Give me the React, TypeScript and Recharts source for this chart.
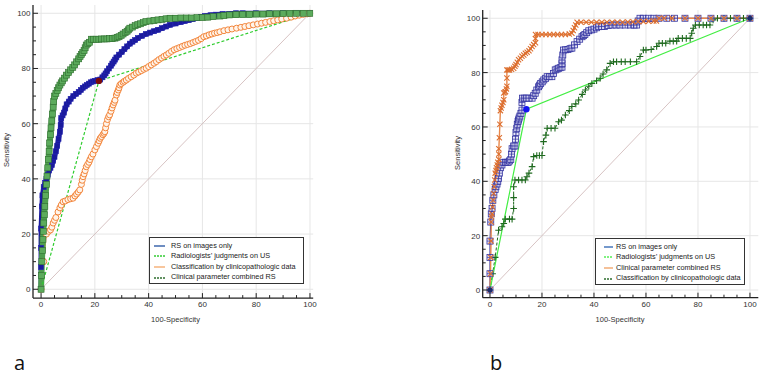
import React from 'react';
import { LineChart, Line, XAxis, YAxis, CartesianGrid, Legend } from 'recharts';

const FONT = '"Liberation Sans", Arial, sans-serif';

type P = [number, number];

// ---------- shared ticks ----------
const minorTicks = [0, 5, 10, 15, 20, 25, 30, 35, 40, 45, 50, 55, 60, 65, 70, 75, 80, 85, 90, 95, 100];
const majorTicks = [0, 20, 40, 60, 80, 100];
const diagonal: P[] = [[0, 0], [100, 100]];

// ---------- panel a ----------
const aRs: P[] = [[0, 0], [0, 8], [0, 15], [0, 22], [0.3, 30], [0.5, 34], [1, 37], [1.5, 38.5], [2, 40], [2.5, 41.5], [3, 43], [3.5, 44], [4, 45], [4.5, 46.5], [5, 48], [5.5, 50], [6, 52], [6.5, 54.5], [7, 57], [7.3, 59.5], [7.5, 62], [8, 63], [8.5, 64], [9, 65.5], [9.5, 67], [10.3, 68], [11, 69], [12, 70], [13, 70.8], [14, 71.5], [14.8, 72.2], [15.5, 73], [16.3, 73.5], [17, 74], [17.8, 74.5], [18.5, 75], [19.3, 75.3], [20, 75.5], [21, 75.8], [22, 76], [22.8, 76.8], [23.5, 77.5], [24, 78.2], [24.5, 79], [25.2, 80], [26, 81], [26.5, 81.8], [27, 82.5], [27.5, 83.2], [28, 84], [29, 85], [30, 86], [31, 87], [32, 88], [33, 89], [34, 89.7], [35, 90.3], [36, 91], [37.5, 91.8], [39, 92.5], [40.5, 93], [42, 93.5], [43.5, 94], [45, 94.6], [46.5, 95.2], [48, 95.8], [50, 96.3], [52, 96.8], [53.5, 97.2], [55, 97.5], [56.5, 97.9], [58, 98.3], [59.5, 98.7], [61, 99], [63, 99.3], [65, 99.5], [67.5, 99.7], [70, 99.8], [72.5, 100], [75, 100], [80, 100], [85, 100], [90, 100], [95, 100], [100, 100]];

const aRad: P[] = [[0, 0], [21.5, 75.5], [100, 100]];

const aClin: P[] = [[0, 0], [1, 10], [2, 20], [2.8, 21], [3.5, 21.5], [4, 22.5], [4.5, 24], [5, 25], [5.5, 26], [6.3, 28], [7, 29.5], [7.5, 30.5], [8.2, 31.7], [9, 32], [10, 32.5], [11, 32.8], [11.9, 33], [12.6, 33.8], [13.2, 34.5], [13.8, 35.2], [14.4, 36], [15, 38], [15.3, 39.5], [15.6, 40.8], [16, 41.8], [16.4, 43], [16.8, 44.4], [17.3, 45.2], [17.8, 46], [18.2, 47], [18.7, 48], [19.3, 49], [20, 50.5], [20.6, 51.7], [21.2, 52.9], [21.6, 53.8], [22, 54.7], [22.5, 55.3], [23, 56], [23.4, 56.5], [23.7, 57.1], [24, 58.5], [24.3, 60], [24.7, 61.5], [25.1, 62.5], [25.5, 63.2], [26, 64.5], [26.4, 65.7], [26.8, 66.8], [27.2, 67.7], [27.5, 68.5], [28, 70.4], [28.3, 71.3], [28.7, 72.2], [29, 73], [29.3, 74], [29.8, 74.5], [30.5, 75], [31, 75.4], [31.7, 75.8], [32.5, 76.4], [33.5, 77], [34.5, 77.6], [35.4, 78.3], [36.3, 78.7], [37.3, 79.2], [38.2, 79.7], [39.1, 80.1], [40, 80.7], [41, 81.3], [42, 81.9], [42.9, 82.5], [43.8, 83.2], [44.8, 83.8], [45.7, 84.4], [46.6, 84.9], [47.5, 85.5], [48.5, 86.2], [49.5, 86.8], [50.5, 87.2], [51.5, 87.6], [52.5, 88], [53.5, 88.4], [54.5, 88.7], [55.5, 89], [56.5, 89.4], [57.5, 89.8], [58.5, 90.2], [59.5, 90.8], [60.5, 91.5], [61.5, 91.8], [62.5, 92.2], [63.5, 92.5], [64.5, 92.8], [65.5, 93], [66.5, 93.3], [68, 93.7], [69.5, 94], [71, 94.3], [72.7, 94.6], [74.3, 94.9], [75.8, 95.2], [77.3, 95.5], [78.9, 95.8], [80.5, 96.1], [82, 96.4], [83.5, 96.7], [85.1, 97], [86.5, 97.3], [88, 97.6], [89.5, 97.9], [91.3, 98.2], [93, 98.6], [94.5, 99], [96, 99.3], [97.5, 99.6], [99, 99.8], [100, 100]];

const aComb: P[] = [[0, 0], [0.15, 5], [0.3, 10], [0.5, 14], [0.7, 18], [0.85, 21], [1, 24], [1.2, 27], [1.4, 30], [1.7, 34], [2, 38], [2.2, 41], [2.5, 44], [2.7, 47], [3, 50], [3.2, 53], [3.5, 56], [3.7, 58.5], [4, 61], [4.2, 63.5], [4.5, 66], [4.7, 68], [5, 70], [5.5, 71], [6, 72], [6.5, 73], [7, 74], [7.5, 74.8], [8, 75.5], [8.7, 76.5], [9.4, 77.6], [10.2, 78.5], [11, 79.5], [11.8, 80.4], [12.5, 81.3], [13.2, 82.4], [14, 83.5], [14.5, 84.3], [15, 85], [15.5, 85.8], [16, 86.5], [16.4, 87.5], [16.8, 88.5], [17.4, 89], [18, 89.5], [18.7, 90.6], [19.5, 90.6], [20.5, 90.6], [21.5, 90.6], [22.5, 90.7], [23.5, 90.7], [24.5, 90.7], [25.5, 90.8], [26.5, 90.8], [27.5, 91], [28.3, 91.3], [29, 91.5], [29.8, 92], [30.5, 92.5], [31.3, 93], [32, 93.5], [32.5, 94], [33, 94.6], [34, 95], [35, 95.5], [36, 95.9], [37, 96.2], [38, 96.6], [39, 97], [40.5, 97.2], [42, 97.4], [43.5, 97.6], [45, 97.8], [46.5, 98], [48, 98.2], [50, 98.2], [52, 98.3], [54, 98.3], [56, 98.3], [58, 98.4], [60, 98.5], [62, 98.6], [64, 98.8], [66.5, 99], [68, 99.2], [70, 99.4], [72.5, 99.5], [75, 99.6], [77.5, 99.6], [80, 99.7], [82.5, 99.7], [85, 99.8], [87.5, 99.8], [90, 99.9], [92.5, 99.9], [95, 100], [97.5, 100], [100, 100]];

const legendNamesA = ['RS on images only', 'Radiologists’ judgments on US', 'Classification by clinicopathologic data', 'Clinical parameter combined RS'];

// ---------- panel b ----------
const bRs: P[] = [[0, 0], [0, 6], [0, 12], [0, 18], [0.3, 25], [0.5, 28], [0.8, 30], [1.1, 33], [1.5, 35], [2, 37], [2.3, 38], [2.7, 39], [3, 40], [3.3, 41], [3.6, 43], [4, 45], [4.6, 46], [5.3, 47], [6, 47], [6.6, 47], [7, 47], [7.5, 47.5], [8, 48], [8.3, 50], [8.5, 52], [9.1, 53], [9.6, 53], [9.8, 55.5], [10, 58], [10.3, 59.5], [10.5, 61], [10.8, 62], [11, 62.6], [11.2, 63.3], [11.5, 64], [11.9, 65], [12.3, 66.2], [12.3, 69], [12.5, 70.6], [13.2, 70.6], [14, 70.6], [15, 70.6], [16.2, 70.6], [16.8, 71.5], [17.4, 72.4], [18, 73.6], [18.7, 74.8], [19.1, 75.4], [19.5, 76], [20.1, 76.6], [20.7, 77.3], [21.4, 77.9], [22, 78.5], [22.9, 78.5], [23.8, 78.5], [24.4, 79.7], [25.1, 81], [25.8, 81.3], [26.4, 81.6], [27, 81.8], [27.7, 82], [27.7, 83.3], [27.7, 84.7], [28, 86.5], [28.3, 88.3], [29, 88.4], [30, 88.5], [30.8, 88.8], [31.5, 89], [32.5, 90.2], [33.5, 91.4], [34.5, 92.3], [35.4, 93.2], [36, 93.6], [36.5, 94], [37.2, 94.7], [38, 95.4], [39, 95.7], [40, 96], [41, 96.5], [41.8, 96.9], [43, 97], [44, 97], [45.5, 97.3], [47, 97.5], [48.5, 97.5], [50, 97.5], [52, 97.5], [54, 97.5], [55.5, 97.5], [56.4, 97.5], [57, 99], [57.7, 100], [59, 100], [61, 100], [63, 100], [65, 100], [68, 100], [71, 100], [75, 100], [80, 100], [85, 100], [90, 100], [95, 100], [100, 100]];

const bRad: P[] = [[0, 0], [14, 66.5], [100, 100]];

const bComb: P[] = [[0, 0], [0.2, 6], [0.3, 12], [0.4, 18], [0.5, 25], [0.6, 27], [0.8, 28], [1, 30.5], [1.2, 33], [1.4, 35.5], [1.6, 38], [1.8, 40.5], [2, 43], [2.3, 44], [2.5, 45], [2.8, 46], [3, 47], [3.4, 48], [3.4, 50], [3.4, 52], [3.6, 56], [3.8, 61], [4, 66], [4.3, 67], [4.6, 68], [5, 69], [5.3, 70], [5.3, 72.5], [5.7, 72.8], [6, 73], [6.3, 74], [6.5, 75], [6.5, 78], [6.5, 81], [7, 81], [7.5, 81], [8.3, 81.2], [9.1, 81.6], [9.6, 82.3], [10, 83], [10.5, 83.8], [11, 84.7], [11.7, 85.3], [12.3, 86], [13, 86.5], [13.6, 87.1], [14.3, 87.5], [15, 88], [15.6, 88.8], [16.2, 89.6], [16.8, 90.3], [17.5, 91], [17.5, 92.5], [17.5, 94], [18.5, 94], [20, 94], [21.5, 94], [23, 94], [24.5, 94], [26, 94], [27.5, 94], [29, 94], [30.5, 94.2], [31.5, 94.5], [32, 95.5], [32.5, 96.5], [33, 97.5], [33.5, 98.5], [35, 98.5], [37, 98.5], [39, 98.5], [41, 98.5], [43, 98.5], [45, 98.5], [47, 98.5], [49, 98.5], [51, 98.5], [53, 98.6], [55, 98.7], [57, 98.8], [59, 98.8], [61, 98.9], [63, 99], [64, 99], [65, 100], [67, 100], [70, 100], [75, 100], [80, 100], [85, 100], [90, 100], [95, 100], [100, 100]];

const bClin: P[] = [[0, 0], [1, 6], [2, 12], [3.3, 22], [4.6, 23.3], [5.3, 24.5], [5.9, 26.1], [7.5, 26.1], [8.5, 26.1], [9.1, 30], [9.1, 34], [9.1, 38], [9.6, 40.5], [11, 40.5], [12.3, 40.5], [13.6, 40.5], [14.2, 41.7], [15, 43], [16.2, 45.4], [16.8, 49.1], [18, 49.5], [19, 49.5], [20, 49.5], [20.6, 54.6], [21.5, 57], [22, 59.5], [23.5, 59.5], [25, 59.5], [26.4, 61.9], [27.5, 62.5], [29, 64.4], [30.5, 66], [31.5, 67.5], [33, 68.5], [34.1, 69.9], [35.5, 72], [36.7, 73.6], [38, 75], [39.2, 76], [41, 77], [42.4, 77.9], [43.5, 79.5], [44.9, 81], [46.2, 83.4], [47.5, 84], [48.7, 84], [50.5, 84], [52, 84], [54, 84], [56.4, 84], [57.7, 85.9], [59, 88.3], [60, 88.3], [62, 88.5], [64.1, 89.6], [65, 90.8], [66.3, 90.8], [67.6, 90.8], [69.2, 91.6], [70.5, 91.6], [71.8, 91.6], [72.4, 92.6], [74, 92.6], [75.5, 92.6], [77, 92.6], [77.6, 94.5], [78.2, 96.3], [79, 97.5], [80.5, 97.5], [82, 97.5], [83.3, 97.5], [84.6, 97.5], [85.8, 99.4], [87.5, 100], [90, 100], [92.5, 100], [95, 100], [97.5, 100], [100, 100]];

const legendNamesB = ['RS on images only', 'Radiologists’ judgments on US', 'Clinical parameter combined RS', 'Classification by clinicopathologic data'];

// ---------- helpers ----------
const pts = (arr: P[]) => arr.map(([x, y]) => ({ x, y }));

const XTick = (props: any) => {
  const { x, y, payload } = props;
  const v = payload.value;
  const major = majorTicks.includes(v);
  return (
    <g>
      <line x1={x} x2={x} y1={y} y2={y - (major ? 5 : 3)} stroke="#222" strokeWidth={1} />
      {major && (
        <text x={x} y={y + 9.2} textAnchor="middle" fontSize={8} fontFamily={FONT} fill="#333">
          {v}
        </text>
      )}
    </g>
  );
};

const YTick = (props: any) => {
  const { x, y, payload } = props;
  const v = payload.value;
  const major = majorTicks.includes(v);
  return (
    <g>
      <line x1={x} x2={x + (major ? 5 : 3)} y1={y} y2={y} stroke="#222" strokeWidth={1} />
      {major && (
        <text x={x - 2.5} y={y + 2.9} textAnchor="end" fontSize={8} fontFamily={FONT} fill="#333">
          {v}
        </text>
      )}
    </g>
  );
};

const empty = (p: any) => <g key={`e${p.index}`} />;

const squareDot = (size: number, fill: string, stroke: string, sw: number) => (p: any) =>
  p.cx == null ? empty(p) : (
    <rect key={`s${p.index}`} x={p.cx - size / 2} y={p.cy - size / 2} width={size} height={size} fill={fill} stroke={stroke} strokeWidth={sw} />
  );

const crossSquareDot = (p: any) =>
  p.cx == null ? empty(p) : (
    <g key={`cs${p.index}`}>
      <rect x={p.cx - 3} y={p.cy - 3} width={6} height={6} fill="#dcdcf4" fillOpacity={0.6} stroke="#3232a0" strokeWidth={0.8} />
      <line x1={p.cx - 3} x2={p.cx + 3} y1={p.cy} y2={p.cy} stroke="#3232a0" strokeWidth={0.7} />
      <line x1={p.cx} x2={p.cx} y1={p.cy - 3} y2={p.cy + 3} stroke="#3232a0" strokeWidth={0.7} />
    </g>
  );

const circleDot = (p: any) =>
  p.cx == null ? empty(p) : (
    <circle key={`c${p.index}`} cx={p.cx} cy={p.cy} r={3} fill="#fff4ea" stroke="#f07a2a" strokeWidth={0.9} />
  );

const xDot = (p: any) =>
  p.cx == null ? empty(p) : (
    <g key={`x${p.index}`} stroke="#dc6e2e" strokeWidth={1.1}>
      <line x1={p.cx - 2.6} x2={p.cx + 2.6} y1={p.cy - 2.6} y2={p.cy + 2.6} />
      <line x1={p.cx - 2.6} x2={p.cx + 2.6} y1={p.cy + 2.6} y2={p.cy - 2.6} />
    </g>
  );

const plusDot = (p: any) =>
  p.cx == null ? empty(p) : (
    <g key={`p${p.index}`} stroke="#1f6a1f" strokeWidth={1.1}>
      <line x1={p.cx - 3.3} x2={p.cx + 3.3} y1={p.cy} y2={p.cy} />
      <line x1={p.cx} x2={p.cx} y1={p.cy - 3.3} y2={p.cy + 3.3} />
    </g>
  );

const midDot = (color: string, endColor?: string) => (p: any) => {
  if (p.cx == null) return empty(p);
  if (p.index === 1) return <circle key={`m${p.index}`} cx={p.cx} cy={p.cy} r={3.2} fill={color} />;
  if (endColor) return <circle key={`m${p.index}`} cx={p.cx} cy={p.cy} r={2.6} fill={endColor} />;
  return empty(p);
};

type LegendItem = { name: string; color: string; dash?: string };

const makeLegend = (items: LegendItem[], lineStart: number, lineLen: number, textLeft: number) => () => (
  <div
    style={{
      border: '1px solid #333',
      background: '#fff',
      width: '100%',
      height: '100%',
      boxSizing: 'border-box',
      paddingTop: 2.5,
    }}
  >
    {items.map((it) => (
      <div
        key={it.name}
        style={{
          position: 'relative',
          height: 10.6,
          lineHeight: '10.6px',
          fontSize: 7.3,
          fontFamily: FONT,
          color: '#222',
          whiteSpace: 'nowrap',
        }}
      >
        <svg style={{ position: 'absolute', left: lineStart, top: 4.3 }} width={lineLen} height={2}>
          <line x1={0} x2={lineLen} y1={1} y2={1} stroke={it.color} strokeWidth={1.3} strokeDasharray={it.dash} />
        </svg>
        <span style={{ position: 'absolute', left: textLeft, top: 0 }}>{it.name}</span>
      </div>
    ))}
  </div>
);

const legendA: LegendItem[] = [
  { name: legendNamesA[0], color: '#1f4f9f' },
  { name: legendNamesA[1], color: '#33cc33', dash: '2 1' },
  { name: legendNamesA[2], color: '#f5a868' },
  { name: legendNamesA[3], color: '#2e6e2e', dash: '2 1' },
];
const legendB: LegendItem[] = [
  { name: legendNamesB[0], color: '#2a62b0' },
  { name: legendNamesB[1], color: '#55ee55', dash: '2 1' },
  { name: legendNamesB[2], color: '#f0a060' },
  { name: legendNamesB[3], color: '#2e6e2e', dash: '2 1' },
];

const axisLine = { stroke: '#222', strokeWidth: 1.3 };

const titleStyle: React.CSSProperties = {
  position: 'absolute',
  fontFamily: FONT,
  fontSize: 7.5,
  color: '#333',
  whiteSpace: 'nowrap',
  lineHeight: '9px',
};

const panelLabel: React.CSSProperties = {
  position: 'absolute',
  top: 353,
  fontFamily: '"Open Sans", sans-serif',
  fontSize: 20,
  lineHeight: '20px',
  color: '#111',
};

export default function App() {
  return (
    <div style={{ position: 'absolute', left: 0, top: 0, width: 763, height: 375, background: '#fff', overflow: 'hidden' }}>
      {/* Panel a */}
      <div style={{ position: 'absolute', left: 0, top: 0 }}>
        <LineChart width={340} height={330} margin={{ top: 5, left: 32, right: 26.8, bottom: 30.9 }}>
          <CartesianGrid stroke="#e6e6e6" horizontalValues={majorTicks} verticalValues={majorTicks} />
          <XAxis
            type="number"
            dataKey="x"
            domain={[-3, 101.2]}
            allowDataOverflow
            ticks={minorTicks}
            interval={0}
            height={1}
            tickSize={0}
            tickMargin={0}
            tickLine={false}
            axisLine={axisLine}
            tick={XTick}
          />
          <YAxis
            type="number"
            dataKey="y"
            domain={[-3.2, 103]}
            allowDataOverflow
            ticks={minorTicks}
            interval={0}
            width={1}
            tickSize={0}
            tickMargin={0}
            tickLine={false}
            axisLine={axisLine}
            tick={YTick}
          />
          <Legend
            layout="horizontal"
            verticalAlign="middle"
            align="center"
            content={makeLegend(legendA, 4, 11, 21)}
            wrapperStyle={{ left: 149, top: 237, width: 155, height: 47 }}
          />
          <Line data={pts(diagonal)} dataKey="y" type="linear" stroke="#d2bcbc" strokeWidth={0.9} dot={false} activeDot={false} isAnimationActive={false} legendType="none" />
          <Line data={pts(aClin)} dataKey="y" name={legendNamesA[2]} type="linear" stroke="#f7a35c" strokeWidth={1} dot={circleDot} activeDot={false} isAnimationActive={false} />
          <Line data={pts(aRs)} dataKey="y" name={legendNamesA[0]} type="linear" stroke="#1a1a9c" strokeWidth={5} dot={squareDot(5, '#1a1a9c', '#2525b0', 0.6)} activeDot={false} isAnimationActive={false} />
          <Line data={pts(aComb)} dataKey="y" name={legendNamesA[3]} type="linear" stroke="#4f9e4f" strokeWidth={6} dot={squareDot(6, '#5cab5c', '#2f6f2f', 0.6)} activeDot={false} isAnimationActive={false} />
          <Line data={pts(aRad)} dataKey="y" name={legendNamesA[1]} type="linear" stroke="#2ecc2e" strokeWidth={1.2} strokeDasharray="3 2" dot={midDot('#7a0c0c')} activeDot={false} isAnimationActive={false} />
        </LineChart>
      </div>
      <div style={{ ...titleStyle, left: 175.5, top: 319, transform: 'translate(-50%, -50%)' }}>100-Specificity</div>
      <div style={{ ...titleStyle, left: 6, top: 150, transform: 'translate(-50%, -50%) rotate(-90deg)' }}>Sensitivity</div>

      {/* Panel b */}
      <div style={{ position: 'absolute', left: 400, top: 0 }}>
        <LineChart width={363} height={330} margin={{ top: 10.1, left: 81.7, right: 4.7, bottom: 31.3 }}>
          <CartesianGrid stroke="#e6e6e6" horizontalValues={majorTicks} verticalValues={majorTicks} />
          <XAxis
            type="number"
            dataKey="x"
            domain={[-2.8, 103.2]}
            allowDataOverflow
            ticks={minorTicks}
            interval={0}
            height={1}
            tickSize={0}
            tickMargin={0}
            tickLine={false}
            axisLine={axisLine}
            tick={XTick}
          />
          <YAxis
            type="number"
            dataKey="y"
            domain={[-2.83, 103]}
            allowDataOverflow
            ticks={minorTicks}
            interval={0}
            width={1}
            tickSize={0}
            tickMargin={0}
            tickLine={false}
            axisLine={axisLine}
            tick={YTick}
          />
          <Legend
            layout="horizontal"
            verticalAlign="middle"
            align="center"
            content={makeLegend(legendB, 8, 9, 20)}
            wrapperStyle={{ left: 195, top: 238, width: 150, height: 47 }}
          />
          <Line data={pts(diagonal)} dataKey="y" type="linear" stroke="#d2bcbc" strokeWidth={0.9} dot={false} activeDot={false} isAnimationActive={false} legendType="none" />
          <Line data={pts(bClin)} dataKey="y" name={legendNamesB[3]} type="linear" stroke="#1f6a1f" strokeWidth={1} strokeDasharray="3 2" dot={plusDot} activeDot={false} isAnimationActive={false} />
          <Line data={pts(bRs)} dataKey="y" name={legendNamesB[0]} type="linear" stroke="#3232a0" strokeWidth={1} dot={crossSquareDot} activeDot={false} isAnimationActive={false} />
          <Line data={pts(bComb)} dataKey="y" name={legendNamesB[2]} type="linear" stroke="#e8874a" strokeWidth={1.4} dot={xDot} activeDot={false} isAnimationActive={false} />
          <Line data={pts(bRad)} dataKey="y" name={legendNamesB[1]} type="linear" stroke="#44ee44" strokeWidth={1.2} dot={midDot('#1414f0', '#1c2a6a')} activeDot={false} isAnimationActive={false} />
        </LineChart>
      </div>
      <div style={{ ...titleStyle, left: 620, top: 319, transform: 'translate(-50%, -50%)' }}>100-Specificity</div>
      <div style={{ ...titleStyle, left: 457, top: 153, transform: 'translate(-50%, -50%) rotate(-90deg)' }}>Sensitivity</div>

      {/* Panel labels */}
      <div style={{ ...panelLabel, left: 14 }}>a</div>
      <div style={{ ...panelLabel, left: 490 }}>b</div>
    </div>
  );
}
